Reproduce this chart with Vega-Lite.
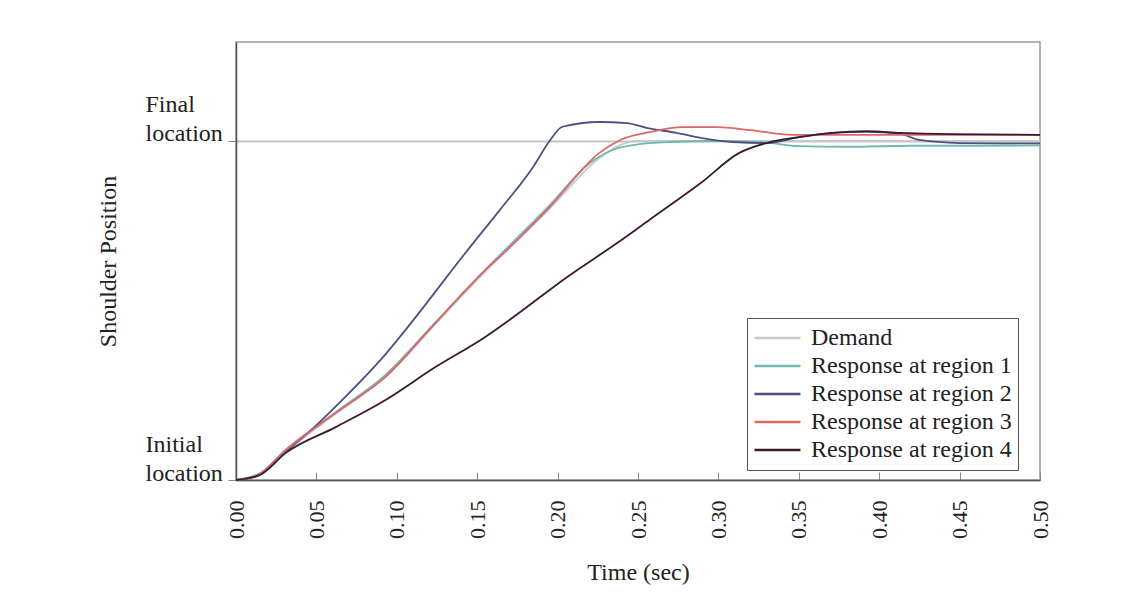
{
  "$schema": "https://vega.github.io/schema/vega-lite/v6.json",
  "autosize": {"type": "none"},
  "padding": {"left": 236, "top": 42, "right": 100, "bottom": 131},
  "width": 804,
  "height": 438,
  "background": "white",
  "config": {
    "font": "Liberation Serif",
    "view": {"stroke": "#9a9a9a", "strokeWidth": 1.5}
  },
  "data": {
    "values": [
      {"series": "Demand", "t": 0, "pos": 0},
      {"series": "Demand", "t": 0.015, "pos": 0.02},
      {"series": "Demand", "t": 0.031, "pos": 0.085},
      {"series": "Demand", "t": 0.062, "pos": 0.195},
      {"series": "Demand", "t": 0.093, "pos": 0.305},
      {"series": "Demand", "t": 0.124, "pos": 0.46},
      {"series": "Demand", "t": 0.155, "pos": 0.615},
      {"series": "Demand", "t": 0.195, "pos": 0.8},
      {"series": "Demand", "t": 0.226, "pos": 0.95},
      {"series": "Demand", "t": 0.24, "pos": 0.99},
      {"series": "Demand", "t": 0.25, "pos": 1.0},
      {"series": "Demand", "t": 0.5, "pos": 1.0},

      {"series": "Response at region 1", "t": 0, "pos": 0},
      {"series": "Response at region 1", "t": 0.015, "pos": 0.02},
      {"series": "Response at region 1", "t": 0.031, "pos": 0.09},
      {"series": "Response at region 1", "t": 0.062, "pos": 0.2},
      {"series": "Response at region 1", "t": 0.093, "pos": 0.31},
      {"series": "Response at region 1", "t": 0.124, "pos": 0.465},
      {"series": "Response at region 1", "t": 0.155, "pos": 0.62},
      {"series": "Response at region 1", "t": 0.195, "pos": 0.81},
      {"series": "Response at region 1", "t": 0.22, "pos": 0.935},
      {"series": "Response at region 1", "t": 0.235, "pos": 0.975},
      {"series": "Response at region 1", "t": 0.25, "pos": 0.99},
      {"series": "Response at region 1", "t": 0.27, "pos": 0.997},
      {"series": "Response at region 1", "t": 0.3, "pos": 1.0},
      {"series": "Response at region 1", "t": 0.33, "pos": 0.995},
      {"series": "Response at region 1", "t": 0.35, "pos": 0.985},
      {"series": "Response at region 1", "t": 0.38, "pos": 0.983},
      {"series": "Response at region 1", "t": 0.42, "pos": 0.986},
      {"series": "Response at region 1", "t": 0.46, "pos": 0.986},
      {"series": "Response at region 1", "t": 0.5, "pos": 0.987},

      {"series": "Response at region 2", "t": 0, "pos": 0},
      {"series": "Response at region 2", "t": 0.012, "pos": 0.009},
      {"series": "Response at region 2", "t": 0.027, "pos": 0.068},
      {"series": "Response at region 2", "t": 0.042, "pos": 0.127},
      {"series": "Response at region 2", "t": 0.068, "pos": 0.245},
      {"series": "Response at region 2", "t": 0.091, "pos": 0.36},
      {"series": "Response at region 2", "t": 0.11, "pos": 0.47},
      {"series": "Response at region 2", "t": 0.143, "pos": 0.672},
      {"series": "Response at region 2", "t": 0.164, "pos": 0.796},
      {"series": "Response at region 2", "t": 0.185, "pos": 0.925},
      {"series": "Response at region 2", "t": 0.195, "pos": 1.0},
      {"series": "Response at region 2", "t": 0.203, "pos": 1.042},
      {"series": "Response at region 2", "t": 0.226, "pos": 1.056},
      {"series": "Response at region 2", "t": 0.243, "pos": 1.053},
      {"series": "Response at region 2", "t": 0.256, "pos": 1.038},
      {"series": "Response at region 2", "t": 0.274, "pos": 1.024},
      {"series": "Response at region 2", "t": 0.289, "pos": 1.009},
      {"series": "Response at region 2", "t": 0.309, "pos": 0.997},
      {"series": "Response at region 2", "t": 0.33, "pos": 0.994},
      {"series": "Response at region 2", "t": 0.351, "pos": 1.012},
      {"series": "Response at region 2", "t": 0.371, "pos": 1.024},
      {"series": "Response at region 2", "t": 0.392, "pos": 1.027},
      {"series": "Response at region 2", "t": 0.413, "pos": 1.021},
      {"series": "Response at region 2", "t": 0.425, "pos": 1.003},
      {"series": "Response at region 2", "t": 0.45, "pos": 0.994},
      {"series": "Response at region 2", "t": 0.475, "pos": 0.993},
      {"series": "Response at region 2", "t": 0.5, "pos": 0.993},

      {"series": "Response at region 3", "t": 0, "pos": 0},
      {"series": "Response at region 3", "t": 0.015, "pos": 0.018},
      {"series": "Response at region 3", "t": 0.031, "pos": 0.088},
      {"series": "Response at region 3", "t": 0.062, "pos": 0.198},
      {"series": "Response at region 3", "t": 0.093, "pos": 0.304},
      {"series": "Response at region 3", "t": 0.124, "pos": 0.463},
      {"series": "Response at region 3", "t": 0.155, "pos": 0.619},
      {"series": "Response at region 3", "t": 0.164, "pos": 0.658},
      {"series": "Response at region 3", "t": 0.195, "pos": 0.805},
      {"series": "Response at region 3", "t": 0.226, "pos": 0.965},
      {"series": "Response at region 3", "t": 0.239, "pos": 1.003},
      {"series": "Response at region 3", "t": 0.257, "pos": 1.026},
      {"series": "Response at region 3", "t": 0.278, "pos": 1.041},
      {"series": "Response at region 3", "t": 0.299, "pos": 1.041},
      {"series": "Response at region 3", "t": 0.32, "pos": 1.032},
      {"series": "Response at region 3", "t": 0.346, "pos": 1.018},
      {"series": "Response at region 3", "t": 0.382, "pos": 1.018},
      {"series": "Response at region 3", "t": 0.45, "pos": 1.018},
      {"series": "Response at region 3", "t": 0.5, "pos": 1.018},

      {"series": "Response at region 4", "t": 0, "pos": 0},
      {"series": "Response at region 4", "t": 0.015, "pos": 0.015},
      {"series": "Response at region 4", "t": 0.031, "pos": 0.08},
      {"series": "Response at region 4", "t": 0.062, "pos": 0.156},
      {"series": "Response at region 4", "t": 0.093, "pos": 0.236},
      {"series": "Response at region 4", "t": 0.124, "pos": 0.333},
      {"series": "Response at region 4", "t": 0.155, "pos": 0.422},
      {"series": "Response at region 4", "t": 0.17, "pos": 0.472},
      {"series": "Response at region 4", "t": 0.206, "pos": 0.599},
      {"series": "Response at region 4", "t": 0.237, "pos": 0.699},
      {"series": "Response at region 4", "t": 0.257, "pos": 0.767},
      {"series": "Response at region 4", "t": 0.289, "pos": 0.876},
      {"series": "Response at region 4", "t": 0.313, "pos": 0.965},
      {"series": "Response at region 4", "t": 0.33, "pos": 0.994},
      {"series": "Response at region 4", "t": 0.351, "pos": 1.012},
      {"series": "Response at region 4", "t": 0.371, "pos": 1.024},
      {"series": "Response at region 4", "t": 0.392, "pos": 1.029},
      {"series": "Response at region 4", "t": 0.413, "pos": 1.024},
      {"series": "Response at region 4", "t": 0.444, "pos": 1.02},
      {"series": "Response at region 4", "t": 0.5, "pos": 1.018}
    ]
  },
  "mark": {"type": "line", "strokeWidth": 1.8, "interpolate": "monotone"},
  "encoding": {
    "x": {
      "field": "t",
      "type": "quantitative",
      "scale": {"domain": [0, 0.5], "nice": false, "zero": false},
      "axis": {
        "title": "Time (sec)",
        "titleFont": "Liberation Serif",
        "titleFontSize": 24,
        "titleFontWeight": "normal",
        "titleColor": "#222",
        "titleBaseline": "middle",
        "titleY": 92,
        "values": [0, 0.05, 0.1, 0.15, 0.2, 0.25, 0.3, 0.35, 0.4, 0.45, 0.5],
        "format": ".2f",
        "labelAngle": 270,
        "labelFontSize": 22,
        "labelColor": "#222",
        "labelPadding": 28,
        "labelFlush": false,
        "tickSize": -8,
        "tickColor": "#888",
        "domainColor": "#555",
        "domainWidth": 1.5,
        "grid": false
      }
    },
    "y": {
      "field": "pos",
      "type": "quantitative",
      "scale": {"domain": [0, 1.292], "nice": false},
      "axis": {
        "title": "Shoulder Position",
        "titleFont": "Liberation Serif",
        "titleFontSize": 24,
        "titleFontWeight": "normal",
        "titleColor": "#222",
        "titleAngle": 270,
        "titleAlign": "center",
        "titleBaseline": "middle",
        "titleX": -128,
        "titleY": 219,
        "values": [0, 1],
        "labelExpr": "datum.value == 0 ? ['Initial', 'location'] : ['Final', 'location']",
        "labelAlign": "left",
        "labelBaseline": "bottom",
        "labelOffset": -24,
        "labelLineHeight": 29,
        "labelFontSize": 24,
        "labelColor": "#222",
        "labelPadding": 83,
        "labelFlush": false,
        "tickSize": 8,
        "tickColor": "#888",
        "domainColor": "#555",
        "domainWidth": 1.5,
        "grid": true,
        "gridColor": "#c4c4c4",
        "gridWidth": 2
      }
    },
    "color": {
      "field": "series",
      "type": "nominal",
      "scale": {
        "domain": ["Demand", "Response at region 1", "Response at region 2", "Response at region 3", "Response at region 4"],
        "range": ["#c8c8c8", "#6fb8ae", "#4b5280", "#e06666", "#3a1a33"]
      },
      "legend": {
        "title": null,
        "orient": "none",
        "legendX": 511,
        "legendY": 276,
        "padding": 6,
        "strokeColor": "#555",
        "fillColor": "white",
        "symbolType": "stroke",
        "symbolSize": 2116,
        "symbolStrokeWidth": 2.5,
        "clipHeight": 28,
        "rowPadding": 0,
        "labelFontSize": 24,
        "labelColor": "#222",
        "labelOffset": 9,
        "labelLimit": 400
      }
    }
  }
}
